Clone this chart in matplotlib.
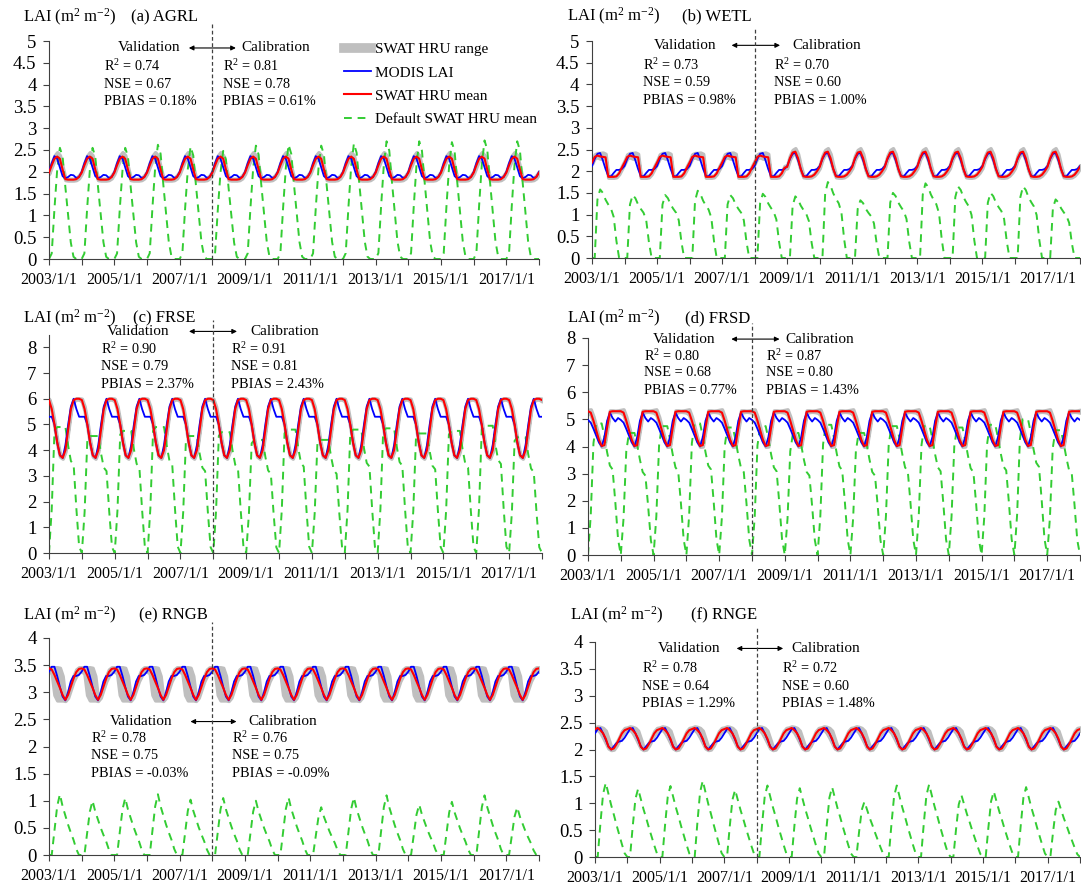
import numpy as np
import matplotlib.pyplot as plt
from matplotlib.lines import Line2D
from matplotlib.ticker import FuncFormatter

plt.rcParams['font.family'] = 'Liberation Serif'
plt.rcParams['mathtext.fontset'] = 'custom'
plt.rcParams['mathtext.rm'] = 'Liberation Serif'
plt.rcParams['mathtext.it'] = 'Liberation Serif:italic'

# ---------------- data (monthly annual cycles) ----------------
years = np.arange(2003, 2018)

# (a) AGRL
agrl_modis = [2.00, 2.20, 2.36, 2.30, 2.10, 1.90, 1.85, 1.88, 1.93, 1.92, 1.86, 1.88]
agrl_swat = [1.98, 2.15, 2.30, 2.35, 2.30, 2.05, 1.83, 1.82, 1.82, 1.82, 1.83, 1.88]
agrl_dlo = [0.03, 0.04, 0.04, 0.05, 0.06, 0.05, 0.02, 0.02, 0.02, 0.02, 0.02, 0.03]
agrl_dhi = [0.03, 0.05, 0.07, 0.10, 0.08, 0.06, 0.03, 0.02, 0.02, 0.02, 0.03, 0.04]
agrl_def_shape = [0.0, 0.05, 0.45, 0.80, 1.0, 0.92, 0.65, 0.40, 0.15, 0.02, 0.0, 0.0]
agrl_def_peak = [2.55, 2.55, 2.55, 2.62, 2.58, 2.48, 2.60, 2.62, 2.60, 2.65, 2.70, 2.70, 2.68, 2.72, 2.70]

# (b) WETL
wetl_modis = [2.12, 2.28, 2.40, 2.42, 2.25, 2.05, 1.89, 1.88, 1.96, 2.03, 2.03, 2.05]
wetl_swat_early = [2.20, 2.33, 2.36, 2.34, 2.33, 2.32, 1.87, 1.87, 1.87, 1.88, 1.95, 2.08]
wetl_swat_late = [2.10, 2.30, 2.43, 2.45, 2.30, 2.05, 1.88, 1.87, 1.87, 1.88, 1.92, 2.00]
wetl_dlo = [0.03, 0.03, 0.04, 0.05, 0.05, 0.04, 0.02, 0.02, 0.02, 0.02, 0.02, 0.03]
wetl_dhi = [0.04, 0.06, 0.06, 0.08, 0.10, 0.08, 0.03, 0.02, 0.02, 0.02, 0.03, 0.04]
wetl_def_shape = [0.0, 0.0, 0.85, 1.0, 0.95, 0.85, 0.78, 0.72, 0.60, 0.25, 0.0, 0.0]
wetl_def_peak = [1.58, 1.45, 1.45, 1.55, 1.45, 1.48, 1.42, 1.75, 1.33, 1.50, 1.72, 1.65, 1.50, 1.65, 1.35]

# (c) FRSE
frse_modis = [5.30, 5.30, 5.00, 4.30, 3.80, 3.70, 4.20, 5.00, 5.70, 6.00, 5.60, 5.30]
frse_swat = [5.95, 5.60, 5.00, 4.30, 3.80, 3.70, 4.00, 4.80, 5.60, 5.95, 6.00, 6.00]
frse_dlo = [0.05, 0.08, 0.10, 0.08, 0.05, 0.03, 0.06, 0.08, 0.08, 0.05, 0.03, 0.03]
frse_dhi = [0.05, 0.10, 0.12, 0.10, 0.06, 0.04, 0.05, 0.06, 0.05, 0.03, 0.02, 0.02]
frse_def_shape = [0.0, 0.35, 0.97, 1.0, 1.0, 1.0, 1.0, 0.85, 0.73, 0.70, 0.35, 0.05]
frse_def_peak = [4.90, 4.55, 4.75, 4.90, 4.55, 4.70, 4.40, 4.80, 4.40, 4.80, 4.85, 4.65, 4.75, 4.95, 4.50]

# (d) FRSD
frsd_modis = [4.98, 4.88, 4.65, 4.40, 4.15, 4.00, 4.35, 4.95, 5.25, 5.05, 4.92, 5.05]
frsd_swat = [5.30, 5.25, 4.95, 4.60, 4.25, 4.02, 4.05, 4.70, 5.28, 5.30, 5.30, 5.30]
frsd_dlo = [0.05, 0.08, 0.10, 0.08, 0.05, 0.03, 0.05, 0.08, 0.05, 0.03, 0.02, 0.03]
frsd_dhi = [0.05, 0.12, 0.15, 0.12, 0.08, 0.03, 0.05, 0.08, 0.05, 0.03, 0.02, 0.03]
frsd_def_shape = [0.0, 0.30, 0.85, 1.0, 1.0, 1.0, 0.90, 0.78, 0.68, 0.65, 0.40, 0.12]
frsd_def_peak = [4.85, 4.50, 4.75, 4.85, 4.70, 4.75, 4.50, 4.80, 4.50, 4.75, 4.75, 4.70, 4.80, 5.00, 4.60]

# (e) RNGB
rngb_modis = [3.38, 3.47, 3.47, 3.30, 3.10, 2.92, 2.85, 3.00, 3.20, 3.30, 3.30, 3.32]
rngb_swat = [3.44, 3.42, 3.32, 3.20, 3.08, 2.95, 2.86, 2.95, 3.10, 3.25, 3.37, 3.43]
rngb_dlo = [0.06, 0.07, 0.37, 0.35, 0.23, 0.10, 0.02, 0.05, 0.05, 0.05, 0.07, 0.05]
rngb_dhi = [0.02, 0.04, 0.14, 0.26, 0.37, 0.35, 0.02, 0.05, 0.05, 0.05, 0.05, 0.03]
rngb_def_shape = [0.0, 0.0, 0.40, 0.80, 1.0, 0.80, 0.65, 0.50, 0.37, 0.25, 0.10, 0.0]
rngb_def_peak = [1.12, 1.00, 1.05, 1.12, 1.02, 1.05, 1.00, 1.06, 0.88, 1.06, 1.10, 0.93, 0.98, 1.10, 0.88]

# (f) RNGE
rnge_modis = [2.30, 2.38, 2.40, 2.30, 2.18, 2.06, 2.00, 2.06, 2.12, 2.15, 2.16, 2.22]
rnge_swat = [2.38, 2.40, 2.36, 2.30, 2.20, 2.05, 2.00, 2.02, 2.10, 2.20, 2.30, 2.36]
rnge_dlo = [0.03, 0.03, 0.05, 0.08, 0.08, 0.03, 0.01, 0.02, 0.03, 0.03, 0.03, 0.03]
rnge_dhi = [0.03, 0.03, 0.06, 0.10, 0.15, 0.15, 0.05, 0.03, 0.03, 0.03, 0.04, 0.04]
rnge_def_shape = [0.0, 0.0, 0.45, 0.85, 1.0, 0.85, 0.70, 0.57, 0.43, 0.30, 0.17, 0.05]
rnge_def_peak = [1.38, 1.27, 1.32, 1.42, 1.25, 1.33, 1.28, 1.30, 1.03, 1.33, 1.35, 1.15, 1.22, 1.30, 1.03]

# stats text (validation, calibration): R2, NSE, PBIAS
stats = {
    'a': (('0.74', '0.67', '0.18%'), ('0.81', '0.78', '0.61%')),
    'b': (('0.73', '0.59', '0.98%'), ('0.70', '0.60', '1.00%')),
    'c': (('0.90', '0.79', '2.37%'), ('0.91', '0.81', '2.43%')),
    'd': (('0.80', '0.68', '0.77%'), ('0.87', '0.80', '1.43%')),
    'e': (('0.78', '0.75', '-0.03%'), ('0.76', '0.75', '-0.09%')),
    'f': (('0.78', '0.64', '1.29%'), ('0.72', '0.60', '1.48%')),
}
names = {'a': 'AGRL', 'b': 'WETL', 'c': 'FRSE', 'd': 'FRSD', 'e': 'RNGB', 'f': 'RNGE'}

# ---------------- build monthly series ----------------
t = (years[:, None] + np.arange(12)[None, :] / 12.0).ravel()
t = np.append(t, 2018.0)


def cycle(profile):
    s = np.tile(profile, len(years))
    return np.append(s, profile[0])


def default_series(shape, peaks):
    s = (np.array(peaks)[:, None] * np.array(shape)[None, :]).ravel()
    return np.append(s, 0.0)


wetl_swat = np.append(np.where(np.repeat(years, 12) < 2009,
                               np.tile(wetl_swat_early, len(years)),
                               np.tile(wetl_swat_late, len(years))), wetl_swat_late[0])

series = {
    'a': (cycle(agrl_modis), cycle(agrl_swat), cycle(agrl_dlo), cycle(agrl_dhi),
          default_series(agrl_def_shape, agrl_def_peak)),
    'b': (cycle(wetl_modis), wetl_swat, cycle(wetl_dlo), cycle(wetl_dhi),
          default_series(wetl_def_shape, wetl_def_peak)),
    'c': (cycle(frse_modis), cycle(frse_swat), cycle(frse_dlo), cycle(frse_dhi),
          default_series(frse_def_shape, frse_def_peak)),
    'd': (cycle(frsd_modis), cycle(frsd_swat), cycle(frsd_dlo), cycle(frsd_dhi),
          default_series(frsd_def_shape, frsd_def_peak)),
    'e': (cycle(rngb_modis), cycle(rngb_swat), cycle(rngb_dlo), cycle(rngb_dhi),
          default_series(rngb_def_shape, rngb_def_peak)),
    'f': (cycle(rnge_modis), cycle(rnge_swat), cycle(rnge_dlo), cycle(rnge_dhi),
          default_series(rnge_def_shape, rnge_def_peak)),
}

# ---------------- layout (pixel boxes: left, right, y of 0, y of top) ----------------
W, H = 1081, 884
boxes = {
    'a': (49, 539, 259, 41, 5, 0.5),
    'b': (592, 1080, 258, 41, 5, 0.5),
    'c': (49, 542, 553, 334.5, 8.5, 1),
    'd': (588, 1080, 555, 338, 8, 1),
    'e': (49, 539, 855, 638, 4, 0.5),
    'f': (595, 1080, 857, 642, 4, 0.5),
}
# text positions in data units:
# (validation centre x, header y, arrow x0, arrow x1, calibration x, val stats x, cal stats x,
#  stat line ys, title y, LAI x, name x, dashed line top)
text_pos = {
    'a': (2006.07, 4.84, 2007.28, 2008.72, 2008.90, 2004.68, 2008.34, (4.42, 4.00, 3.61), 5.54, 2002.21, 2005.50, 5.40),
    'b': (2005.86, 4.90, 2007.29, 2008.78, 2009.16, 2004.58, 2008.60, (4.44, 4.04, 3.63), 5.56, 2002.23, 2005.77, 5.32),
    'c': (2005.71, 8.62, 2007.26, 2008.72, 2009.14, 2004.59, 2008.53, (7.94, 7.24, 6.55), 9.12, 2002.22, 2005.57, 9.08),
    'd': (2005.92, 7.96, 2007.37, 2008.84, 2009.02, 2004.71, 2008.42, (7.35, 6.71, 6.08), 8.71, 2002.37, 2005.95, 8.55),
    'e': (2005.83, 2.46, 2007.33, 2008.74, 2009.09, 2004.28, 2008.60, (2.15, 1.83, 1.50), 4.42, 2002.21, 2005.74, 4.29),
    'f': (2005.90, 3.88, 2007.38, 2008.82, 2009.06, 2004.44, 2008.77, (3.52, 3.18, 2.86), 4.49, 2002.23, 2005.97, 4.27),
}

fig = plt.figure(figsize=(W / 100, H / 100), dpi=100)

for key in ['a', 'b', 'c', 'd', 'e', 'f']:
    x0, x1, y0, y1, top, step = boxes[key]
    ax = fig.add_axes([x0 / W, 1 - y0 / H, (x1 - x0) / W, (y0 - y1) / H])
    modis, swat, dlo, dhi, default = series[key]

    ax.fill_between(t, swat - dlo, swat + dhi, color='#bfbfbf', lw=2.5,
                    edgecolor='#bfbfbf', zorder=1)
    ax.plot(t, modis, color='#0000ff', lw=1.3, zorder=3)
    ax.plot(t, swat, color='#ff0000', lw=1.5, zorder=4)
    ax.plot(t, default, color='#33cc33', lw=1.4, ls=(0, (4, 3)), zorder=2)

    ax.set_xlim(2003, 2018)
    ax.set_ylim(0, top)
    ax.spines['top'].set_visible(False)
    ax.spines['right'].set_visible(False)
    ax.spines['left'].set_color('#404040')
    ax.spines['bottom'].set_color('#404040')

    xt = np.arange(2003, 2019)
    ax.set_xticks(xt)
    ax.set_xticklabels([f'{y}/1/1' if (y - 2003) % 2 == 0 and y < 2018 else '' for y in xt],
                       fontsize=11.5)
    ax.set_yticks(np.arange(0, int(top) + 0.01, step))
    ax.yaxis.set_major_formatter(FuncFormatter(lambda v, p: f'{v:g}'))
    ax.tick_params(axis='y', labelsize=13.5, direction='out', length=4, pad=5, color='#404040')
    ax.tick_params(axis='x', direction='out', length=4, pad=5, color='#404040')

    (vx, hy, ax0, ax1, cx, vsx, csx, sy, ty, laix, namex, vtop) = text_pos[key]
    ax.plot([2008, 2008], [0, vtop], color='#404040', lw=0.9, ls=(0, (3, 2)),
            clip_on=False, zorder=5)
    ax.text(vx, hy, 'Validation', ha='center', va='center', fontsize=11)
    ax.text(cx, hy, 'Calibration', ha='left', va='center', fontsize=11)
    ax.annotate('', xy=(ax1, hy), xytext=(ax0, hy),
                arrowprops=dict(arrowstyle='<|-|>', color='black', lw=0.8,
                                mutation_scale=7, shrinkA=0, shrinkB=0),
                annotation_clip=False)
    val, cal = stats[key]
    for sx, vals in ((vsx, val), (csx, cal)):
        ax.text(sx, sy[0], f'R$^2$ = {vals[0]}', va='center', fontsize=10.3)
        ax.text(sx, sy[1], f'NSE = {vals[1]}', va='center', fontsize=10.3)
        ax.text(sx, sy[2], f'PBIAS = {vals[2]}', va='center', fontsize=10.3)

    ax.text(laix, ty, 'LAI (m$^2$ m$^{-2}$)', va='center', fontsize=12, clip_on=False)
    ax.text(namex, ty, f'({key}) {names[key]}', va='center', fontsize=12, clip_on=False)

    if key == 'a':
        handles = [Line2D([], [], color='#bfbfbf', lw=7),
                   Line2D([], [], color='#0000ff', lw=1.3),
                   Line2D([], [], color='#ff0000', lw=1.5),
                   Line2D([], [], color='#33cc33', lw=1.4, ls=(0, (4, 3)))]
        labels = ['SWAT HRU range', 'MODIS LAI', 'SWAT HRU mean', 'Default SWAT HRU mean']
        ax.legend(handles, labels, loc='upper left', bbox_to_anchor=(0.59, 1.02),
                  frameon=False, fontsize=11, handlelength=1.75, handletextpad=0.25,
                  labelspacing=0.62, borderaxespad=0)

fig.savefig('out.png', dpi=100)
